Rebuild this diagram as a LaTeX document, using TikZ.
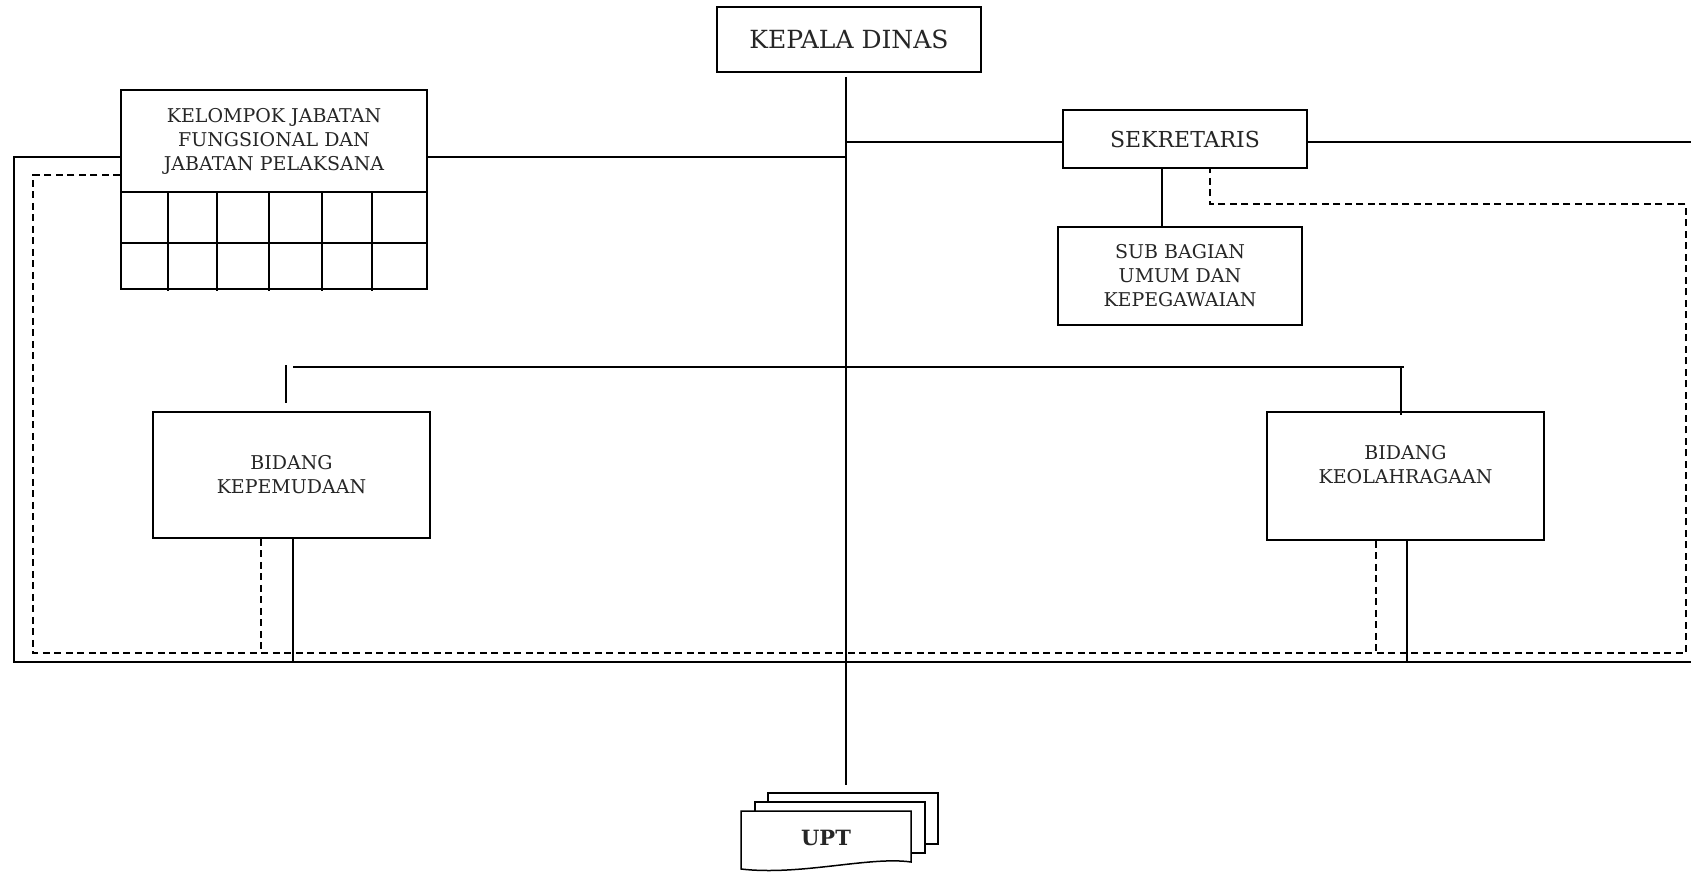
\documentclass[tikz,border=0pt]{standalone}
\usepackage{fontspec}
\setmainfont{DejaVu Serif}
\usetikzlibrary{calc}
\begin{document}
\begin{tikzpicture}[x=1pt,y=-1pt,
  line width=1.5pt,
  box/.style={draw, fill=white, inner sep=0pt, align=center, text=black!85},
  link/.style={draw, line width=1.5pt},
  dlink/.style={draw, line width=1.5pt, dash pattern=on 7pt off 4.5pt},
  sheet/.style={draw, fill=white, inner sep=0pt, line width=1.5pt},
]
\useasboundingbox (0,0) rectangle (1691,872);

% --- boxes ---
\node[box, minimum width=264pt, minimum height=65pt, font=\fontsize{25}{30}\selectfont] (kepala) at (849,39.5) {KEPALA DINAS};

\node[box, minimum width=306pt, minimum height=102pt, font=\fontsize{19}{24}\selectfont] (kelompok) at (274,141) {KELOMPOK JABATAN\\FUNGSIONAL DAN\\JABATAN PELAKSANA};
\node[box, minimum width=306pt, minimum height=97pt] (kgrid) at (274,240.5) {};
\draw (121,243) -- (427,243);
\foreach \cx in {168,217,269,322,372} \draw (\cx,192) -- (\cx,291);

\node[box, minimum width=244pt, minimum height=58pt, font=\fontsize{22}{26}\selectfont] (sekr) at (1185,139) {SEKRETARIS};
\node[box, minimum width=244pt, minimum height=98pt, font=\fontsize{19}{24}\selectfont] (subbag) at (1180,276) {SUB BAGIAN\\UMUM DAN\\KEPEGAWAIAN};

\node[box, minimum width=277pt, minimum height=126pt, font=\fontsize{19}{24}\selectfont] (bkep) at (291.5,475) {BIDANG\\KEPEMUDAAN};
\node[box, minimum width=277pt, minimum height=128pt, font=\fontsize{19}{24}\selectfont] (bkor) at (1405.5,476) {BIDANG\\KEOLAHRAGAAN\\~};

% --- stacked UPT sheets ---
\node[sheet, minimum width=170pt, minimum height=51pt] (upt3) at (853,818.5) {};
\node[sheet, minimum width=170pt, minimum height=51pt] (upt2) at (840,827.5) {};
\draw[fill=white] (741,811) -- (911,811) -- (911,862) .. controls (870,856) and (800,876) .. (741,869) -- cycle;
\node[font=\bfseries\fontsize{21}{24}\selectfont, text=black!85] (upt) at (826,838) {UPT};

% --- solid command lines ---
\coordinate (ctop) at (846,77);
\coordinate (cbot) at (846,785);
\draw[link] (ctop) -- (cbot);

\coordinate (jkel) at (846,157);
\draw[link] (kelompok.east |- jkel) -- (jkel);

\coordinate (jsek) at (846,142);
\draw[link] (jsek) -- (jsek -| sekr.west);
\coordinate (sekrR) at (1691,142);
\draw[link] (sekr.east |- sekrR) -- (sekrR);

\draw[link] ([xshift=-23pt]sekr.south) -- ([xshift=-23pt]sekr.south |- subbag.north);

\coordinate (bl) at (293,367);
\coordinate (br) at (1404,367);
\draw[link] (bl) -- (br);
\coordinate (sl) at (286,365);
\draw[link] (sl) -- (286,403);
\coordinate (sr) at (1401,367);
\draw[link] (sr) -- ([yshift=-4pt]sr |- bkor.north);

\coordinate (lo) at (14,157);
\coordinate (bo) at (14,662);
\coordinate (re) at (1691,662);
\draw[link] (kelompok.west |- lo) -- (lo) -- (bo) -- (re);
\draw[link] ([xshift=1.5pt]bkep.south) -- ([xshift=1.5pt]bkep.south |- re);
\draw[link] ([xshift=1.5pt]bkor.south) -- ([xshift=1.5pt]bkor.south |- re);

% --- dashed coordination lines ---
\coordinate (dl) at (33,175);
\coordinate (dbl) at (33,653);
\coordinate (dbr) at (1686,653);
\coordinate (dtr) at (1686,204);
\coordinate (dtl) at (1210,204);
\draw[dlink] (kelompok.west |- dl) -- (dl) -- (dbl) -- (dbr) -- (dtr) -- (dtl) -- (dtl |- sekr.south);
\draw[dlink] ([xshift=-30.5pt]bkep.south) -- ([xshift=-30.5pt]bkep.south |- dbl);
\draw[dlink] ([xshift=-29.5pt]bkor.south) -- ([xshift=-29.5pt]bkor.south |- dbl);
\end{tikzpicture}
\end{document}
